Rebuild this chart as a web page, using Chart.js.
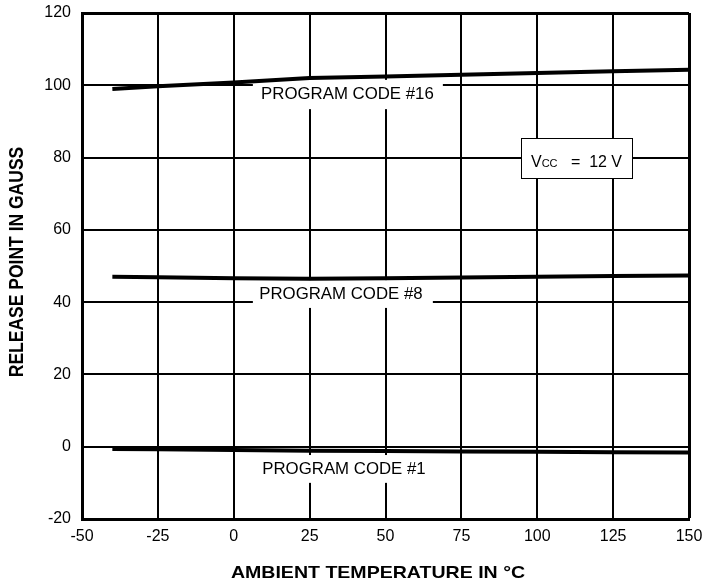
<!DOCTYPE html>
<html>
<head>
<meta charset="utf-8">
<script src="https://cdn.jsdelivr.net/npm/chart.js@4.4.1/dist/chart.umd.min.js"></script>
<style>
  html, body { margin: 0; padding: 0; background: #fff; }
  canvas { display: block; }
</style>
</head>
<body>
<canvas id="chart" width="720" height="584"></canvas>
<script>
// Release point vs. ambient temperature, three program codes, Vcc = 12 V
const temperatures = [-40, -25, 0, 25, 50, 75, 100, 125, 150];
const code16 = [99.0, 99.7, 100.8, 102.0, 102.4, 102.9, 103.4, 103.9, 104.3];
const code8  = [47.0, 46.9, 46.6, 46.5, 46.6, 46.8, 47.0, 47.2, 47.4];
const code1  = [-0.6, -0.7, -0.9, -1.1, -1.2, -1.3, -1.4, -1.5, -1.6];

const xTicks = [-50, -25, 0, 25, 50, 75, 100, 125, 150];
const yTicks = [-20, 0, 20, 40, 60, 80, 100, 120];

const seriesNames = ['PROGRAM CODE #16', 'PROGRAM CODE #8', 'PROGRAM CODE #1'];
const xTitle = 'AMBIENT TEMPERATURE IN °C';
const yTitle = 'RELEASE POINT IN GAUSS';

// Label placement (data units): white knock-out box [x0, x1, yTop, yBottom], text anchor
const seriesLabelLayout = [
  { box: [6.3, 68.9, 101.5, 93.4], x: 9.0, y: 97.9 },
  { box: [6.3, 65.6, 46.1, 38.4],  x: 8.4, y: 42.5 },
  { box: [6.3, 65.6, -2.3, -10.0], x: 9.4, y: -5.9 }
];
const conditionBox = [94.5, 131.1, 85.3, 74.4];

const FONT = "'Liberation Sans', Arial, Helvetica, sans-serif";

function toPoints(values) {
  return temperatures.map((t, i) => ({ x: t, y: values[i] }));
}

function wideText(ctx, text, x, y, font, align, stretch) {
  ctx.save();
  ctx.font = font;
  ctx.translate(x, y);
  ctx.scale(stretch || 1, 1);
  ctx.textAlign = align || 'left';
  ctx.textBaseline = 'alphabetic';
  ctx.fillStyle = '#000';
  ctx.fillText(text, 0, 0);
  ctx.restore();
}

const annotations = {
  id: 'annotations',
  beforeDatasetsDraw(chart) {
    const { ctx, scales: { x, y } } = chart;
    seriesLabelLayout.forEach((l, i) => {
      const x0 = x.getPixelForValue(l.box[0]);
      const x1 = x.getPixelForValue(l.box[1]);
      const y0 = y.getPixelForValue(l.box[2]);
      const y1 = y.getPixelForValue(l.box[3]);
      ctx.save();
      ctx.fillStyle = '#fff';
      ctx.fillRect(x0, y0, x1 - x0, y1 - y0);
      ctx.restore();
      const size = 16;
      wideText(ctx, seriesNames[i], x.getPixelForValue(l.x),
               y.getPixelForValue(l.y) + size * 0.36, size + 'px ' + FONT, 'left', 1.05);
    });

    // Supply-voltage condition box
    const bx0 = Math.round(x.getPixelForValue(conditionBox[0])) + 0.5;
    const bx1 = Math.round(x.getPixelForValue(conditionBox[1])) + 0.5;
    const by0 = Math.round(y.getPixelForValue(conditionBox[2])) + 0.5;
    const by1 = Math.round(y.getPixelForValue(conditionBox[3])) + 0.5;
    ctx.save();
    ctx.fillStyle = '#fff';
    ctx.fillRect(bx0, by0, bx1 - bx0, by1 - by0);
    ctx.strokeStyle = '#000';
    ctx.lineWidth = 1;
    ctx.strokeRect(bx0, by0, bx1 - bx0, by1 - by0);
    ctx.restore();

    const base = by1 - 12;
    let cx = bx0 + 9.5;
    const parts = [['V', 16], ['CC', 11], ['   =  12 V', 16]];
    parts.forEach(([t, s]) => {
      const f = s + 'px ' + FONT;
      wideText(ctx, t, cx, base, f, 'left', 1);
      ctx.save();
      ctx.font = f;
      cx += ctx.measureText(t).width;
      ctx.restore();
    });
  },
  afterDraw(chart) {
    const { ctx } = chart;
    // x-axis title
    wideText(ctx, xTitle, 378, 578, 'bold 17px ' + FONT, 'center', 1.15);
    // y-axis title (rotated; widening applies across the letters)
    ctx.save();
    ctx.font = 'bold 17.5px ' + FONT;
    ctx.translate(23, 262);
    ctx.rotate(-Math.PI / 2);
    ctx.scale(1, 1.15);
    ctx.textAlign = 'center';
    ctx.textBaseline = 'alphabetic';
    ctx.fillStyle = '#000';
    ctx.fillText(yTitle, 0, 0);
    ctx.restore();
  }
};

const lineStyle = {
  borderColor: '#000',
  borderWidth: 4,
  pointRadius: 0,
  tension: 0,
  fill: false,
  borderCapStyle: 'butt'
};

new Chart(document.getElementById('chart'), {
  type: 'line',
  data: {
    datasets: [
      Object.assign({ label: seriesNames[0], data: toPoints(code16) }, lineStyle),
      Object.assign({ label: seriesNames[1], data: toPoints(code8) }, lineStyle),
      Object.assign({ label: seriesNames[2], data: toPoints(code1) }, lineStyle)
    ]
  },
  options: {
    responsive: false,
    animation: false,
    devicePixelRatio: 1,
    layout: { padding: { left: 0, right: 31, top: 13, bottom: 0 } },
    plugins: { legend: { display: false }, tooltip: { enabled: false } },
    scales: {
      x: {
        type: 'linear',
        min: -50, max: 150,
        afterBuildTicks: s => { s.ticks = xTicks.map(v => ({ value: v })); },
        afterFit: s => { s.height = 65; s.paddingLeft = 0; s.paddingRight = 0; },
        grid: {
          color: '#000',
          lineWidth: c => (c.tick && c.tick.value === 150) ? 3 : 2,
          drawTicks: false
        },
        border: { display: true, color: '#000', width: 3 },
        ticks: {
          color: '#000',
          padding: 8,
          maxRotation: 0,
          font: { family: FONT, size: 16 }
        }
      },
      y: {
        type: 'linear',
        min: -20, max: 120,
        afterBuildTicks: s => { s.ticks = yTicks.map(v => ({ value: v })); },
        afterFit: s => { s.width = 82; s.paddingTop = 0; s.paddingBottom = 0; },
        grid: {
          color: '#000',
          lineWidth: c => (c.tick && c.tick.value === 120) ? 3 : 2,
          drawTicks: false
        },
        border: { display: true, color: '#000', width: 3 },
        ticks: {
          color: '#000',
          padding: 11,
          font: { family: FONT, size: 16 }
        }
      }
    }
  },
  plugins: [annotations]
});
</script>
</body>
</html>
